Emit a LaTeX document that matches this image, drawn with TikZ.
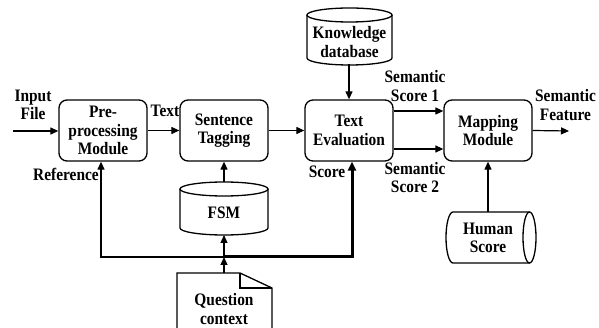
\documentclass[tikz,border=0pt]{standalone}
\usepackage{fontspec}
\setmainfont{Liberation Serif}[FakeStretch=0.88]
\usetikzlibrary{arrows.meta,calc}
\begin{document}
\begin{tikzpicture}[x=1pt,y=-1pt,
  lbl/.style={font=\bfseries\fontsize{17.5}{18.5}\selectfont, align=center, inner sep=0pt},
  proc/.style={lbl, draw, line width=1.3pt, rounded corners=8pt, minimum width=88pt, minimum height=61pt},
  holder/.style={inner sep=0pt, outer sep=0pt},
  conn/.style={line width=1.2pt, -{Triangle[length=8pt,width=7pt]}},
  thickconn/.style={line width=3pt, -{Triangle[length=9pt,width=8pt]}},
  shapeline/.style={line width=1.3pt}]
\useasboundingbox (0,0) rectangle (599,328);
\clip (0,0) rectangle (599,328);

% processing blocks
\node[proc] (pre) at (103,130.5) {Pre-\\processing\\Module};
\node[proc] (st)  at (224,130.5) {Sentence\\Tagging};
\node[proc] (te)  at (349,130.5) {Text\\Evaluation};
\node[proc] (mm)  at (488,130.5) {Mapping\\Module};

% knowledge database (vertical cylinder)
\draw[shapeline] (307,15) -- (307,58) arc[start angle=180, end angle=0, x radius=42.5, y radius=7] -- (392,15);
\draw[shapeline] (349.5,15) ellipse [x radius=42.5, y radius=7];
\node[holder, minimum width=85pt, minimum height=57pt] (kd) at (349.5,36.5) {};
\node[lbl] at (349.5,42) {Knowledge\\database};

% FSM (vertical cylinder)
\draw[shapeline] (180,189) -- (180,228) arc[start angle=180, end angle=0, x radius=44, y radius=7] -- (268,189);
\draw[shapeline] (224,189) ellipse [x radius=44, y radius=7];
\node[holder, minimum width=88pt, minimum height=53pt] (fsm) at (224,208.5) {};
\node[lbl] at (224,213) {FSM};

% human score (horizontal cylinder)
\draw[shapeline] (529.5,212) -- (453,212) arc[start angle=-90, end angle=-270, x radius=7, y radius=25.5] -- (529.5,263);
\draw[shapeline] (529.5,237.5) ellipse [x radius=6.5, y radius=25.5];
\node[holder, minimum width=90pt, minimum height=51pt] (hs) at (491,237.5) {};
\node[lbl] at (488,238) {Human\\Score};

% question context (document with folded corner)
\draw[shapeline] (177,340) -- (177,273) -- (240,273) -- (272,288) -- (272,340);
\draw[line width=2pt] (240,273) -- (240,288) -- (272,288);
\node[lbl, minimum width=95pt, minimum height=72pt, anchor=north] (qc) at (224,273) {Question\\context};

% free labels
\node[lbl] at (33,105) {Input\\File};
\node[lbl] at (165,111) {Text};
\node[lbl] at (66,174) {Reference};
\node[lbl] at (327,172) {Score};
\node[lbl] at (415,86) {Semantic\\Score 1};
\node[lbl] at (415,177.5) {Semantic\\Score 2};
\node[lbl] at (565.5,105) {Semantic\\Feature};

% connectors
\coordinate (in) at (13,131);
\coordinate (out) at (569,131);
\coordinate (s1) at (0,111);
\coordinate (s2) at (0,149);
\coordinate (j) at (224,257);

\draw[conn] (in) -- (in -| pre.west);
\draw[conn] (pre.east) -- (st.west);
\draw[conn] (st.east) -- (te.west);
\draw[conn] (kd.south) -- (kd.south -| te.north) -- (te.north);
\draw[conn] (te.east |- s1) -- (mm.west |- s1);
\draw[conn] (te.east |- s2) -- (mm.west |- s2);
\draw[conn] (mm.east) -- (out);
\draw[conn] (hs.north -| mm.south) -- (mm.south);
\draw[conn] (fsm.north) -- (st.south);
\draw[conn] (qc.north) -- (j);
\draw[conn] (j) -- (fsm.south);
\draw[conn] (j) -| ([xshift=-2pt]pre.south);
\draw[thickconn] (j) -| ([xshift=3pt]te.south);
\end{tikzpicture}
\end{document}
